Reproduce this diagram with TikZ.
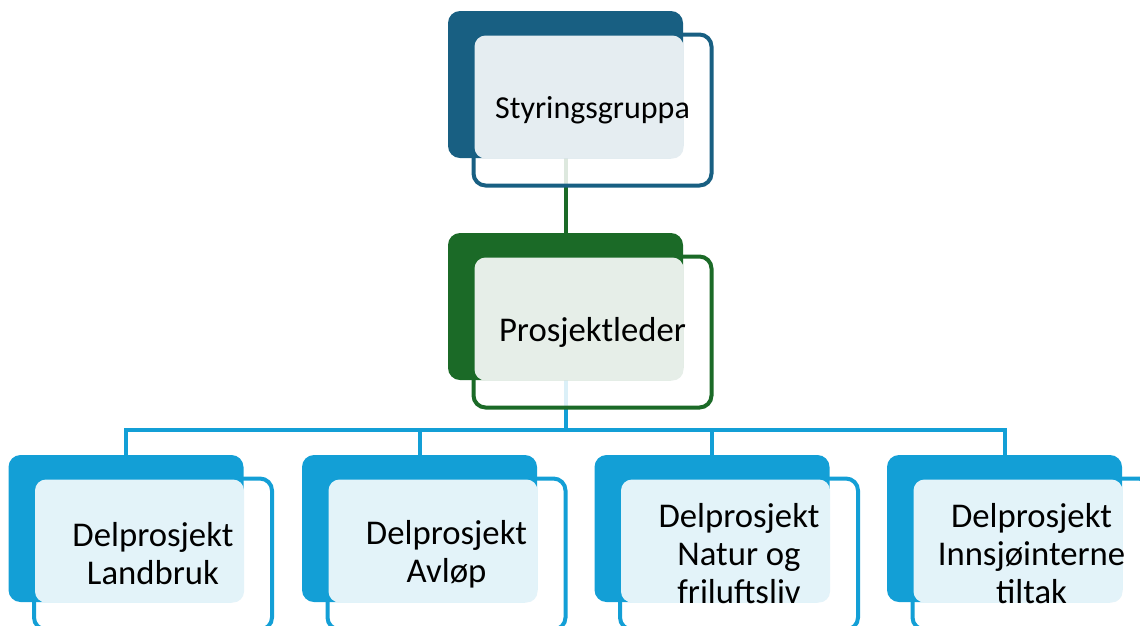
\documentclass[tikz,border=0pt]{standalone}
\usepackage{fontspec}
\setmainfont{Carlito}
\pgfdeclarelayer{bg}
\pgfsetlayers{bg,main}
\definecolor{navy}{RGB}{24,95,130}
\definecolor{navypanel}{RGB}{229,237,241}
\definecolor{forest}{RGB}{27,106,39}
\definecolor{forestpanel}{RGB}{230,238,232}
\definecolor{sky}{RGB}{19,159,214}
\definecolor{skypanel}{RGB}{227,243,249}
\tikzset{
  darkbox/.style={rectangle, rounded corners=12pt, inner sep=0pt, minimum width=235pt, minimum height=147pt, draw=none},
  outbox/.style={rectangle, rounded corners=12pt, inner sep=0pt, minimum width=238pt, minimum height=151pt, line width=4pt, fill=white, fill opacity=0.85},
  panelbox/.style={rectangle, rounded corners=11pt, inner sep=0pt, minimum width=209pt, minimum height=123pt, draw=none},
  label/.style={inner sep=0pt, align=center, text=black, font=\fontsize{34.7}{38}\selectfont},
  toplabel/.style={label, font=\fontsize{32}{38}\selectfont},
  link/.style={line width=4pt},
}
\newcommand\orgunit[7]{%
  \node[outbox, draw=#4] (#1o) at (#2+27,#3+25.5) {};
  \node[darkbox, fill=#4] (#1d) at (#2,#3) {};
  \node[panelbox, fill=#5] (#1p) at (#2+13.5,#3+12.5) {};
  \node[#7] (#1t) at (#2+27,#3+25.5) {#6};
}
\begin{document}
\begin{tikzpicture}[x=1pt,y=-1pt]
\useasboundingbox (0,0) rectangle (1140,625);
\orgunit{top}{565.5}{84.5}{navy}{navypanel}{Styringsgruppa}{toplabel}
\orgunit{mid}{565.5}{306.5}{forest}{forestpanel}{Prosjektleder}{label}
\orgunit{ba}{126}{528.5}{sky}{skypanel}{Delprosjekt\\Landbruk}{label}
\orgunit{bb}{419.5}{528.5}{sky}{skypanel}{Delprosjekt\\Avløp}{label}
\orgunit{bc}{712}{528.5}{sky}{skypanel}{Delprosjekt\\Natur og\\friluftsliv}{label}
\orgunit{bd}{1004.5}{528.5}{sky}{skypanel}{Delprosjekt\\Innsjøinterne\\tiltak}{label}
\coordinate (bus) at (565.5,430);
\begin{pgfonlayer}{bg}
\draw[link, draw=forest] (topd.south) -- (midd.north);
\draw[link, draw=sky] (midd.south) -- (bus);
\draw[link, draw=sky] (bus) -| (bad.north);
\draw[link, draw=sky] (bus) -| (bbd.north);
\draw[link, draw=sky] (bus) -| (bcd.north);
\draw[link, draw=sky] (bus) -| (bdd.north);
\end{pgfonlayer}
\end{tikzpicture}
\end{document}
